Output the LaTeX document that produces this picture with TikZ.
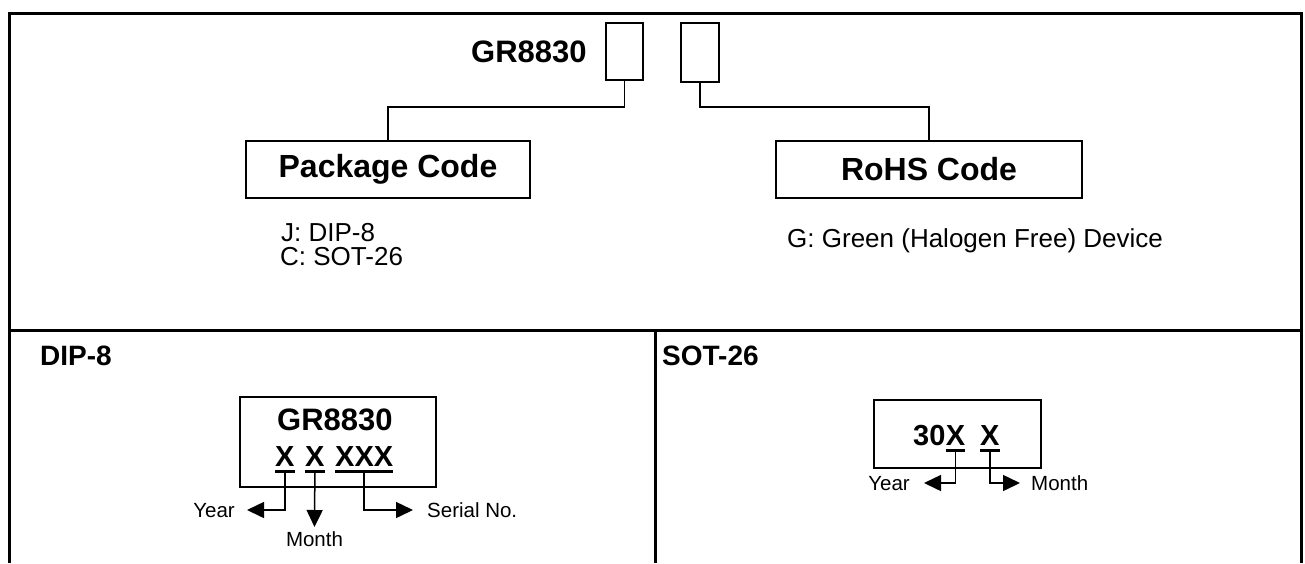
\documentclass[tikz,border=0pt]{standalone}
\usepackage{fontspec}
\setmainfont{Liberation Sans}
\usetikzlibrary{arrows.meta}
\tikzset{
  frame/.style={line width=3pt},
  box/.style={draw, line width=1.5pt, inner sep=0pt},
  conn/.style={line width=1.5pt},
  arr/.style={line width=1.5pt, -{Triangle[length=17pt,width=16pt]}},
  bigbold/.style={font=\bfseries\fontsize{31}{31}\selectfont, inner sep=0pt},
  boxbold/.style={font=\bfseries\fontsize{29}{29}\selectfont, inner sep=0pt},
  titlebold/.style={font=\bfseries\fontsize{28}{28}\selectfont, inner sep=0pt},
  codebold/.style={font=\bfseries\fontsize{32}{32}\selectfont},
  reg/.style={font=\fontsize{26}{26}\selectfont, inner sep=0pt},
  small/.style={font=\fontsize{20.5}{20.5}\selectfont, inner sep=0pt},
}
\begin{document}
\begin{tikzpicture}[x=1pt,y=-1pt]
\useasboundingbox (0,0) rectangle (1305,563);
% frame
\draw[frame] (9,563) -- (9,13) -- (1301,13) -- (1301,563);
\draw[frame] (9,330) -- (1301,330);
\draw[frame] (655,330) -- (655,563);
% top part
\node[bigbold, anchor=base west] (pn) at (471,62) {GR8830};
\node[box, minimum width=37pt, minimum height=57pt] (b1) at (624.5,51.5) {};
\node[box, minimum width=38pt, minimum height=59pt] (b2) at (700,52.5) {};
\node[box, codebold, minimum width=284pt, minimum height=57pt] (pkg) at (388,169.5) {Package Code};
\node[box, codebold, minimum width=306pt, minimum height=57pt] (rohs) at (929,169.5) {RoHS Code};
\draw[conn] (b1.south) -- ++(0,26) -| (pkg.north);
\draw[conn] (b2.south) -- ++(0,24) -| (rohs.north);
\node[reg, anchor=base west] (pj) at (281,241) {J: DIP-8};
\node[reg, anchor=base west] (pc) at (280,265) {C: SOT-26};
\node[reg, anchor=base west] (rg) at (787,247) {G: Green (Halogen Free) Device};
% DIP-8 panel
\node[titlebold, anchor=base west] (dipt) at (40,365) {DIP-8};
\node[box, minimum width=196pt, minimum height=90pt, anchor=north west] (dipbox) at (239,396) {};
\node[bigbold, anchor=base west] (dippn) at (277,430) {GR8830};
\node[boxbold, anchor=base west] (dx1) at (275,466) {X};
\node[boxbold, anchor=base west] (dx2) at (305,466) {X};
\node[boxbold, anchor=base west] (dx3) at (335,466) {XXX};
\foreach \n in {dx1,dx2,dx3}{
  \draw[line width=3pt] ([yshift=-5.5pt]\n.base west) -- ([yshift=-5.5pt]\n.base east);
}
\node[small, anchor=base east] (dyear) at (235,517) {Year};
\node[small, anchor=base] (dmonth) at (314.5,546) {Month};
\node[small, anchor=base west] (dser) at (427,517) {Serial No.};
\draw[arr] ([yshift=-7pt]dx1.base) |- ([xshift=12pt,yshift=7pt]dyear.base east);
\draw[arr] ([yshift=-7pt]dx2.base) -- ([yshift=19pt]dmonth.base);
\draw[arr] ([yshift=-7pt]dx3.base) |- ([xshift=-14pt,yshift=7pt]dser.base west);
% SOT-26 panel
\node[titlebold, anchor=base west] (sott) at (662,365) {SOT-26};
\node[box, minimum width=167pt, minimum height=68pt, anchor=north west] (sotbox) at (873,399) {};
\node[boxbold, anchor=base west] (s30) at (913,445) {30};
\node[boxbold, anchor=base west] (sx1) at (s30.base east) {X};
\node[boxbold, anchor=base west] (sx2) at (980,445) {X};
\foreach \n in {sx1,sx2}{
  \draw[line width=3pt] ([yshift=-5.5pt]\n.base west) -- ([yshift=-5.5pt]\n.base east);
}
\node[small, anchor=base east] (syear) at (910,490) {Year};
\node[small, anchor=base west] (smonth) at (1031,490) {Month};
\draw[arr] ([yshift=-7pt]sx1.base) |- ([xshift=14pt,yshift=7pt]syear.base east);
\draw[arr] ([yshift=-7pt]sx2.base) |- ([xshift=-11pt,yshift=7pt]smonth.base west);
\end{tikzpicture}
\end{document}
